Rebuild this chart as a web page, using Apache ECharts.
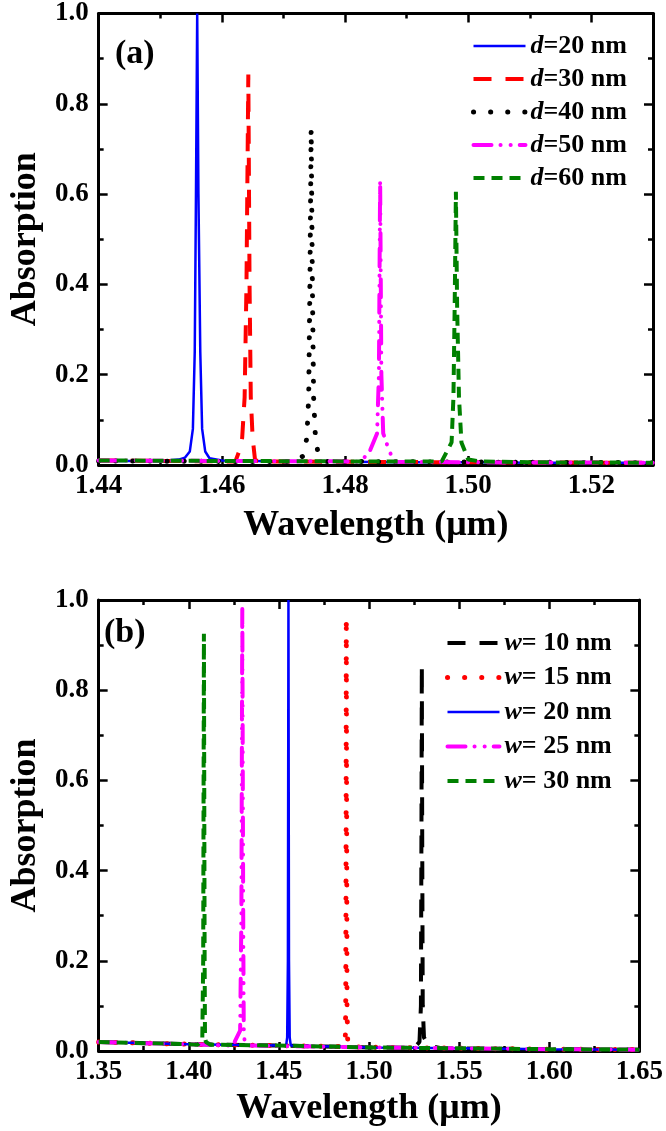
<!DOCTYPE html>
<html>
<head>
<meta charset="utf-8">
<script src="https://cdn.jsdelivr.net/npm/echarts@6/dist/echarts.min.js"></script>
<style>
html,body{margin:0;padding:0;background:#fff;}
#chart{width:666px;height:1131px;}
</style>
</head>
<body>
<div id="chart"></div>
<script>
// ---------- Panel (a): absorption vs wavelength for different d ----------
const namesA = ['d=20 nm', 'd=30 nm', 'd=40 nm', 'd=50 nm', 'd=60 nm'];
const d20 = [[1.44,0.009],[1.445,0.009],[1.45,0.009],[1.453,0.012],[1.454,0.016],[1.4548,0.03],[1.4553,0.08],[1.4556,0.25],[1.4558,0.6],[1.456,1.0],[1.4562,0.6],[1.4565,0.25],[1.4568,0.08],[1.4573,0.03],[1.458,0.015],[1.46,0.01],[1.47,0.008],[1.48,0.007],[1.49,0.006],[1.50,0.006],[1.51,0.005],[1.52,0.005],[1.53,0.005]];
const d30 = [[1.44,0.01],[1.45,0.009],[1.46,0.008],[1.4622,0.008],[1.4628,0.03],[1.4633,0.06],[1.4637,0.15],[1.464,0.4],[1.4643,0.865],[1.4645,0.4],[1.4647,0.15],[1.465,0.06],[1.4654,0.01],[1.468,0.008],[1.48,0.007],[1.50,0.006],[1.53,0.005]];
const d40 = [[1.44,0.009],[1.46,0.008],[1.472,0.008],[1.4732,0.02],[1.4738,0.06],[1.4741,0.15],[1.4743,0.4],[1.4745,0.745],[1.4747,0.4],[1.4749,0.15],[1.4752,0.06],[1.4757,0.02],[1.477,0.008],[1.49,0.007],[1.53,0.005]];
const d50 = [[1.44,0.01],[1.46,0.009],[1.48,0.008],[1.4825,0.007],[1.484,0.03],[1.4852,0.07],[1.4855,0.2],[1.4857,0.63],[1.4859,0.2],[1.4862,0.07],[1.4872,0.03],[1.4881,0.007],[1.50,0.006],[1.53,0.005]];
const d60 = [[1.44,0.01],[1.46,0.009],[1.48,0.008],[1.4957,0.008],[1.4973,0.05],[1.4976,0.15],[1.4978,0.35],[1.498,0.605],[1.4982,0.35],[1.4985,0.15],[1.4989,0.05],[1.50,0.012],[1.502,0.008],[1.51,0.006],[1.53,0.005]];

// ---------- Panel (b): absorption vs wavelength for different w ----------
const namesB = ['w= 10 nm', 'w= 15 nm', 'w= 20 nm', 'w= 25 nm', 'w= 30 nm'];
const w10 = [[1.35,0.02],[1.40,0.015],[1.45,0.012],[1.50,0.008],[1.525,0.007],[1.528,0.02],[1.5288,0.1],[1.5291,0.5],[1.5293,0.855],[1.5295,0.5],[1.5298,0.1],[1.5305,0.03],[1.533,0.012],[1.54,0.006],[1.60,0.004],[1.65,0.003]];
const w15 = [[1.35,0.02],[1.40,0.015],[1.45,0.012],[1.485,0.01],[1.4868,0.015],[1.4871,0.1],[1.4873,0.5],[1.4874,0.96],[1.4876,0.5],[1.4878,0.1],[1.4882,0.015],[1.49,0.009],[1.55,0.006],[1.60,0.004],[1.65,0.003]];
const w20 = [[1.35,0.02],[1.40,0.015],[1.45,0.012],[1.454,0.012],[1.4546,0.03],[1.455,0.2],[1.4553,1.0],[1.4556,0.2],[1.456,0.03],[1.4566,0.012],[1.50,0.008],[1.55,0.006],[1.60,0.004],[1.65,0.003]];
const w25 = [[1.35,0.02],[1.40,0.015],[1.4244,0.012],[1.4285,0.045],[1.4292,0.3],[1.4297,0.985],[1.4302,0.3],[1.4305,0.05],[1.431,0.02],[1.434,0.012],[1.45,0.011],[1.50,0.008],[1.55,0.006],[1.60,0.004],[1.65,0.003]];
const w30 = [[1.35,0.02],[1.40,0.015],[1.405,0.014],[1.4075,0.025],[1.408,0.2],[1.4084,0.925],[1.4088,0.2],[1.409,0.03],[1.4095,0.02],[1.412,0.014],[1.45,0.012],[1.50,0.008],[1.55,0.006],[1.60,0.004],[1.65,0.003]];

const xTitle = 'Wavelength (μm)';
const yTitle = 'Absorption';

const FONT = "'Liberation Serif', 'Times New Roman', serif";
const chart = echarts.init(document.getElementById('chart'), null, {renderer: 'canvas'});

function axisBase(extra) {
  return Object.assign({
    type: 'value',
    axisLine: {show: true, onZero: false, lineStyle: {color: '#000', width: 3}},
    axisTick: {show: true, inside: true, length: 9, lineStyle: {color: '#000', width: 2.5}},
    minorTick: {show: true, splitNumber: 2, length: 5, lineStyle: {color: '#000', width: 2.5}},
    splitLine: {show: false},
    minorSplitLine: {show: false},
    axisLabel: {show: true, color: '#000', fontFamily: FONT, fontWeight: 'bold', fontSize: 27, margin: 10},
    nameTextStyle: {color: '#000', fontFamily: FONT, fontWeight: 'bold', fontSize: 36}
  }, extra);
}

function xAxes(grid, min, max, interval, gap) {
  return [
    axisBase({gridIndex: grid, position: 'bottom', min: min, max: max, interval: interval,
      name: xTitle, nameLocation: 'middle', nameGap: gap,
      axisLabel: {color: '#000', fontFamily: FONT, fontWeight: 'bold', fontSize: 27, margin: 8, showMaxLabel: max === 1.65,
        formatter: v => v.toFixed(2)}}),
    axisBase({gridIndex: grid, position: 'top', min: min, max: max, interval: interval,
      axisLabel: {show: false}})
  ];
}
function yAxes(grid, gap) {
  return [
    axisBase({gridIndex: grid, position: 'left', min: 0, max: 1, interval: 0.2,
      name: yTitle, nameLocation: 'middle', nameGap: gap,
      axisLabel: {color: '#000', fontFamily: FONT, fontWeight: 'bold', fontSize: 27, margin: 10,
        formatter: v => v.toFixed(1)}}),
    axisBase({gridIndex: grid, position: 'right', min: 0, max: 1, interval: 0.2,
      axisLabel: {show: false}})
  ];
}

function line(name, data, xi, yi, color, width, dash, cap) {
  return {
    name: name, type: 'line', data: data, xAxisIndex: xi, yAxisIndex: yi,
    symbol: 'none', showSymbol: false, smooth: false, clip: true, animation: false,
    lineStyle: {color: color, width: width, type: dash, cap: cap || 'butt'},
    itemStyle: {color: color}
  };
}

const DASH = [18, 14];
const DOT = [0.1, 17];
const DASHDOT = [18, 9, 0.1, 10, 0.1, 9];
const SHORT = [11, 7];

const series = [
  line(namesA[0], d20, 0, 0, '#0000ff', 2.5, 'solid'),
  line(namesA[1], d30, 0, 0, '#ff0000', 4, DASH),
  line(namesA[2], d40, 0, 0, '#000000', 5, DOT, 'round'),
  line(namesA[3], d50, 0, 0, '#ff00ff', 4, DASHDOT, 'round'),
  line(namesA[4], d60, 0, 0, '#008000', 4, SHORT),
  line(namesB[0], w10, 2, 2, '#000000', 4, DASH),
  line(namesB[1], w15, 2, 2, '#ff0000', 5, DOT, 'round'),
  line(namesB[2], w20, 2, 2, '#0000ff', 2.5, 'solid'),
  line(namesB[3], w25, 2, 2, '#ff00ff', 4, DASHDOT, 'round'),
  line(namesB[4], w30, 2, 2, '#008000', 4, SHORT)
];

function legendFmt(n) { return '{it|' + n.charAt(0) + '}{rm|' + n.slice(1) + '}'; }
function legendText(lh) {
  return {
    color: '#000',
    rich: {
      it: {fontFamily: FONT, fontStyle: 'italic', fontWeight: 'bold', fontSize: 26, color: '#000', lineHeight: lh},
      rm: {fontFamily: FONT, fontWeight: 'bold', fontSize: 26, color: '#000', lineHeight: lh}
    }
  };
}
const legendCommon = {
  orient: 'vertical', itemWidth: 52, itemHeight: 14, selectedMode: false,
  formatter: legendFmt, textStyle: legendText(29),
  itemStyle: {opacity: 0},
  lineStyle: {width: 'inherit', type: 'inherit', color: 'inherit', cap: 'inherit'}
};

const option = {
  backgroundColor: '#ffffff',
  animation: false,
  title: [
    {text: '(a)', left: 110, top: 32, textStyle: {fontFamily: FONT, fontWeight: 'bold', fontSize: 34, color: '#000'}},
    {text: '(b)', left: 99, top: 611, textStyle: {fontFamily: FONT, fontWeight: 'bold', fontSize: 34, color: '#000'}}
  ],
  grid: [
    {left: 94, top: 13, width: 559, height: 452},
    {left: 83, top: 600, width: 558, height: 451}
  ],
  xAxis: [].concat(xAxes(0, 1.44, 1.53, 0.02, 43), xAxes(1, 1.35, 1.65, 0.05, 40)),
  yAxis: [].concat(yAxes(0, 52), yAxes(1, 50)),
  legend: [
    Object.assign({data: namesA, left: 466, top: 28}, legendCommon, {itemGap: 7}),
    Object.assign({data: namesB, left: 440, top: 625}, legendCommon, {itemGap: 8.5})
  ],
  series: series
};
chart.setOption(option);
</script>
</body>
</html>
